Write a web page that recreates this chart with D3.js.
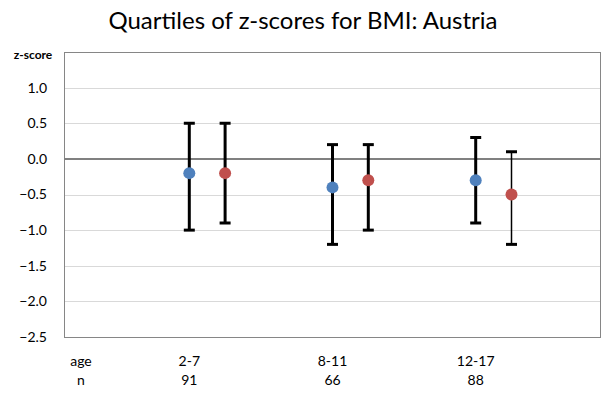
<!DOCTYPE html>
<html><head><meta charset="utf-8">
<script src="https://cdn.jsdelivr.net/npm/d3@7/dist/d3.min.js"></script>
<style>body{margin:0;background:#fff}svg{display:block}text{font-family:Lato,"Open Sans",sans-serif;fill:#000}</style>
</head><body>
<script>
// ---- data ----
const title = "Quartiles of z-scores for BMI: Austria";
const ageGroups = ["2-7", "8-11", "12-17"];
const sampleSizes = ["91", "66", "88"];
const yTicks = [1.0, 0.5, 0.0, -0.5, -1.0, -1.5, -2.0, -2.5];
const seriesA_median = [-0.2, -0.4, -0.3];
const seriesA_q1 = [-1.0, -1.2, -0.9];
const seriesA_q3 = [0.5, 0.2, 0.3];
const seriesB_median = [-0.2, -0.3, -0.5];
const seriesB_q1 = [-0.9, -1.0, -1.2];
const seriesB_q3 = [0.5, 0.2, 0.1];

// ---- layout ----
const W = 604, H = 394;
const m = {left: 64, right: 3, top: 52, bottom: 57};
const svg = d3.select("body").append("svg").attr("width", W).attr("height", H);

const y = d3.scaleLinear().domain([-2.5, 1.5]).range([H - m.bottom, m.top]);
const x = d3.scaleLinear().domain([0, 3.75]).range([m.left, W - m.right]);

// gridlines
svg.append("g").selectAll("line").data(yTicks.filter(v => v !== 0 && v !== -2.5))
  .join("line").attr("x1", m.left).attr("x2", W - m.right)
  .attr("y1", d => Math.round(y(d)) + 0.5).attr("y2", d => Math.round(y(d)) + 0.5)
  .attr("stroke", "#d9d9d9").attr("stroke-width", 1);

// axis labels (y) via d3 axis
const yAxis = d3.axisLeft(y).tickValues(yTicks).tickSize(0).tickPadding(17).tickFormat(d3.format(".1f"));
const ga = svg.append("g").attr("transform", `translate(${m.left},0)`).call(yAxis);
ga.select(".domain").remove();
ga.selectAll("text").style("font-size", "14px").style("font-family", "Lato, 'Open Sans', sans-serif").attr("fill", "#000");

// plot border
svg.append("rect").attr("x", m.left + 0.5).attr("y", m.top + 0.5)
  .attr("width", W - m.right - m.left - 1).attr("height", H - m.bottom - m.top)
  .attr("fill", "none").attr("stroke", "#868686").attr("stroke-width", 1);

// zero line
svg.append("line").attr("x1", m.left).attr("x2", W - m.right)
  .attr("y1", y(0)).attr("y2", y(0)).attr("stroke", "#808080").attr("stroke-width", 2);

// series
const series = [
  {med: seriesA_median, q1: seriesA_q1, q3: seriesA_q3, color: "#4F81BD", off: 0.875},
  {med: seriesB_median, q1: seriesB_q1, q3: seriesB_q3, color: "#C0504D", off: 1.125}
];
const thinBar = (s, i) => s === 1 && i === 2;
series.forEach((s, si) => {
  const g = svg.append("g");
  s.med.forEach((v, i) => {
    const cx = x(i + s.off);
    const sw = thinBar(si, i) ? 1.5 : 3;
    g.append("line").attr("x1", cx).attr("x2", cx).attr("y1", y(s.q3[i])).attr("y2", y(s.q1[i]))
      .attr("stroke", "#000").attr("stroke-width", sw);
    [s.q1[i], s.q3[i]].forEach(q => {
      g.append("line").attr("x1", cx - 5.5).attr("x2", cx + 5.5).attr("y1", y(q)).attr("y2", y(q))
        .attr("stroke", "#000").attr("stroke-width", 3);
    });
    g.append("circle").attr("cx", cx).attr("cy", y(v)).attr("r", 6).attr("fill", s.color);
  });
});

// title
svg.append("text").attr("x", 303).attr("y", 29).attr("text-anchor", "middle")
  .style("font-size", "24px").text(title);
// y label
svg.append("text").attr("x", 33).attr("y", 59).attr("text-anchor", "middle")
  .style("font-size", "12px").style("font-weight", "bold").text("z-score");

// bottom labels
svg.append("text").attr("x", 81).attr("y", 366).attr("text-anchor", "middle").style("font-size", "14px").text("age");
svg.append("text").attr("x", 81).attr("y", 385).attr("text-anchor", "middle").style("font-size", "14px").text("n");
svg.append("g").selectAll("text").data(ageGroups).join("text")
  .attr("x", (d, i) => x(i + 0.875)).attr("y", 366).attr("text-anchor", "middle").style("font-size", "14px").text(d => d);
svg.append("g").selectAll("text").data(sampleSizes).join("text")
  .attr("x", (d, i) => x(i + 0.875)).attr("y", 385).attr("text-anchor", "middle").style("font-size", "14px").text(d => d);
</script>
</body></html>
